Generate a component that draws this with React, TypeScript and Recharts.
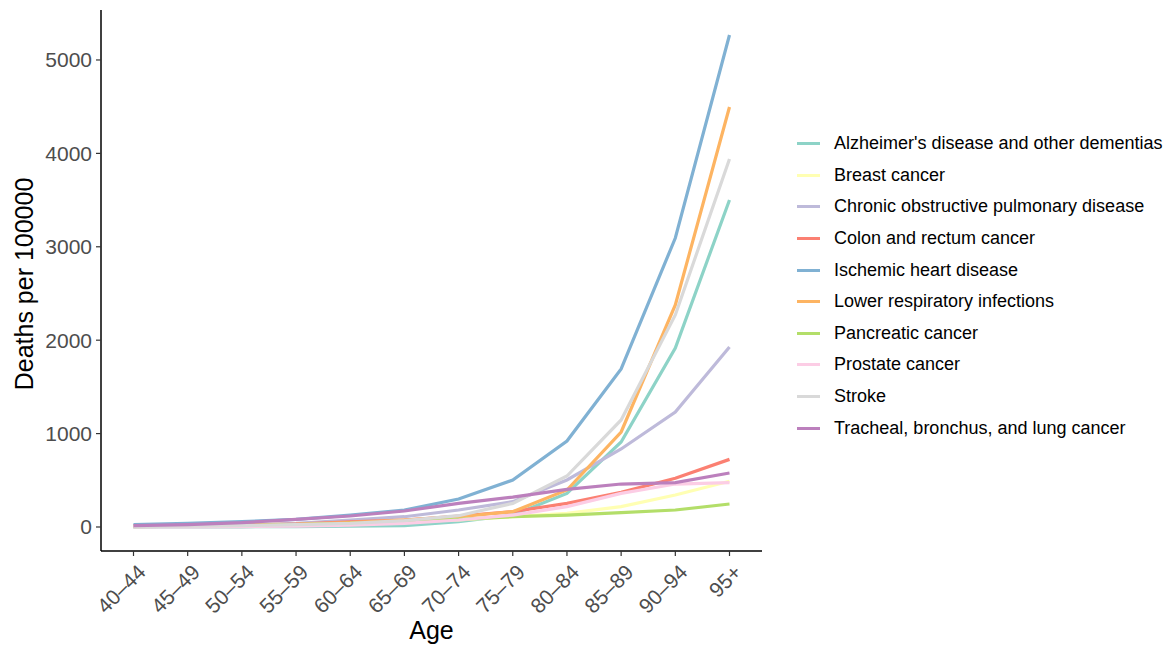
import { Label, Line, LineChart, XAxis, YAxis } from "recharts";

const ages = ["40–44", "45–49", "50–54", "55–59", "60–64", "65–69", "70–74", "75–79", "80–84", "85–89", "90–94", "95+"];

const alzheimers = [0, 1, 2, 5, 8, 14, 57, 128, 360, 910, 1916, 3501];
const breast = [14, 19, 26, 33, 39, 57, 75, 110, 146, 218, 343, 490];
const copd = [5, 10, 20, 39, 75, 110, 182, 271, 503, 835, 1231, 1927];
const colon = [6, 12, 20, 30, 54, 75, 118, 164, 253, 371, 521, 724];
const ischemic = [25, 39, 57, 82, 128, 182, 300, 503, 921, 1692, 3094, 5267];
const lowerResp = [6, 10, 16, 28, 46, 75, 110, 164, 396, 1017, 2377, 4497];
const pancreatic = [4, 8, 15, 25, 39, 57, 82, 110, 128, 153, 182, 246];
const prostate = [1, 2, 5, 10, 21, 39, 75, 128, 218, 360, 460, 475];
const stroke = [5, 9, 15, 25, 39, 68, 121, 253, 546, 1146, 2270, 3940];
const lung = [14, 25, 46, 82, 118, 171, 253, 320, 403, 460, 475, 578];

const yTicks = [0, 1000, 2000, 3000, 4000, 5000];

const series = [
  { key: "alz", name: "Alzheimer's disease and other dementias", color: "#8DD3C7", values: alzheimers },
  { key: "breast", name: "Breast cancer", color: "#FFFFB3", values: breast },
  { key: "copd", name: "Chronic obstructive pulmonary disease", color: "#BEBADA", values: copd },
  { key: "colon", name: "Colon and rectum cancer", color: "#FB8072", values: colon },
  { key: "ihd", name: "Ischemic heart disease", color: "#80B1D3", values: ischemic },
  { key: "lri", name: "Lower respiratory infections", color: "#FDB462", values: lowerResp },
  { key: "panc", name: "Pancreatic cancer", color: "#B3DE69", values: pancreatic },
  { key: "prost", name: "Prostate cancer", color: "#FCCDE5", values: prostate },
  { key: "stroke", name: "Stroke", color: "#D9D9D9", values: stroke },
  { key: "lung", name: "Tracheal, bronchus, and lung cancer", color: "#BC80BD", values: lung }
];

const data = ages.map((age, i) => {
  const row: Record<string, string | number> = { age };
  series.forEach((s) => {
    row[s.key] = s.values[i];
  });
  return row;
});

const FONT = "'Liberation Sans', Arial, Helvetica, sans-serif";

function AgeTick({ x, y, payload }: any) {
  const ax = x + 3;
  const ay = y + 5;
  return (
    <text
      x={ax}
      y={ay}
      dy="0.71em"
      transform={`rotate(-45, ${ax}, ${ay})`}
      textAnchor="end"
      fontSize={21}
      fill="#4D4D4D"
      fontFamily={FONT}
    >
      {payload.value}
    </text>
  );
}

function LegendBox() {
  return (
    <div
      style={{
        position: "absolute",
        left: 797,
        top: 128,
        fontFamily: FONT,
        fontSize: 18,
        color: "#000"
      }}
    >
      {series.map((s) => (
        <div key={s.key} style={{ display: "flex", alignItems: "center", height: 31.6 }}>
          <div style={{ width: 23, height: 3, background: s.color, marginRight: 14 }} />
          <span style={{ whiteSpace: "nowrap" }}>{s.name}</span>
        </div>
      ))}
    </div>
  );
}

export default function App() {
  return (
    <div style={{ position: "absolute", left: 0, top: 0, width: 1168, height: 647, background: "#fff" }}>
      <LineChart
        width={1168}
        height={647}
        data={data}
        margin={{ top: 10, right: 406, bottom: 0, left: 0 }}
      >
        <XAxis
          dataKey="age"
          interval={0}
          padding={{ left: 32.5, right: 32.5 }}
          stroke="#000"
          strokeWidth={1.5}
          tickLine={{ stroke: "#333", strokeWidth: 1.2 }}
          tickSize={5}
          tick={<AgeTick />}
          height={96}
        >
          <Label
            content={() => (
              <text x={431.5} y={639} textAnchor="middle" fontSize={25} fill="#000" fontFamily={FONT}>
                Age
              </text>
            )}
          />
        </XAxis>
        <YAxis
          width={101}
          domain={[-257, 5535]}
          ticks={yTicks}
          allowDataOverflow
          stroke="#000"
          strokeWidth={1.5}
          tickLine={{ stroke: "#333", strokeWidth: 1.2 }}
          tickSize={5}
          tickMargin={4}
          tick={{ fontSize: 21, fill: "#4D4D4D", fontFamily: FONT }}
        >
          <Label
            content={() => (
              <text
                x={33}
                y={284}
                transform="rotate(-90, 33, 284)"
                textAnchor="middle"
                fontSize={25}
                fill="#000"
                fontFamily={FONT}
              >
                Deaths per 100000
              </text>
            )}
          />
        </YAxis>
        {series.map((s) => (
          <Line
            key={s.key}
            dataKey={s.key}
            name={s.name}
            type="linear"
            stroke={s.color}
            strokeWidth={3.2}
            dot={false}
            activeDot={false}
            isAnimationActive={false}
          />
        ))}
      </LineChart>
      <LegendBox />
    </div>
  );
}
